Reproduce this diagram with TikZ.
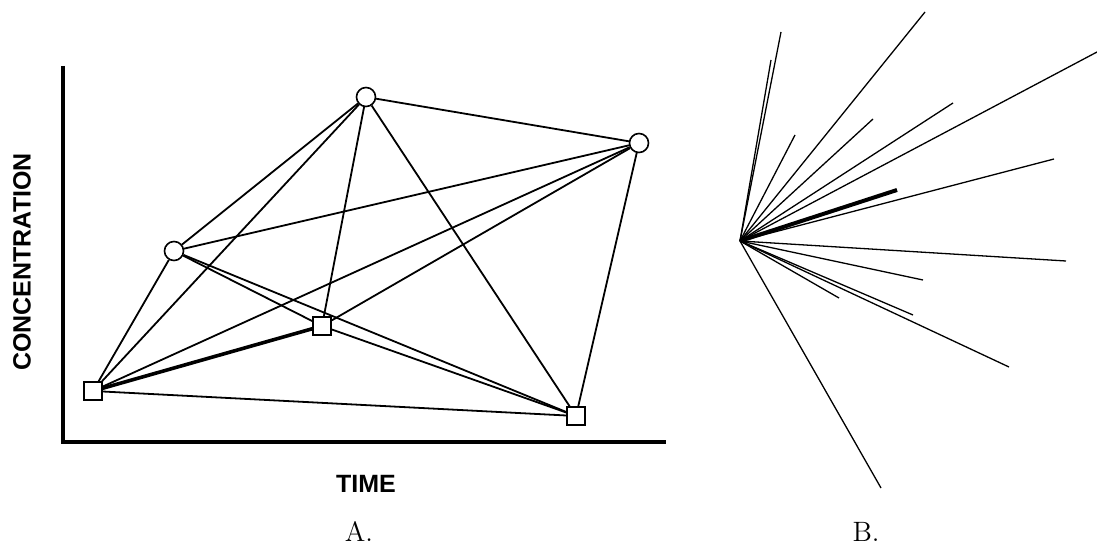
\documentclass[tikz,border=0pt]{standalone}
\usepackage{fontspec}
\setsansfont{Liberation Sans}
\tikzset{
  peak/.style={circle, draw, fill=white, line width=0.8pt, minimum size=9.5pt, inner sep=0pt},
  trough/.style={rectangle, draw, fill=white, line width=0.8pt, minimum size=9pt, inner sep=0pt},
  link/.style={line width=0.9pt},
  heavylink/.style={line width=1.8pt},
  ray/.style={line width=0.65pt},
  heavyray/.style={line width=2pt},
  axislabel/.style={font=\sffamily\bfseries\fontsize{12.5}{14}\selectfont},
  panellabel/.style={font=\fontsize{14}{16}\selectfont, inner sep=1pt}
}

\begin{document}
\begin{tikzpicture}[x=0.5pt, y=-0.5pt]
  \useasboundingbox (0,0) rectangle (1097,549);

  \coordinate (ytop) at (63,66);
  \coordinate (xend) at (666,442);
  \draw[line width=2pt] (ytop) |- (xend);
  \node[axislabel, rotate=90] (conc) at (22,262) {CONCENTRATION};
  \node[axislabel] (time) at (366,484) {TIME};

  \node[peak] (c1) at (174,251) {};
  \node[peak] (c2) at (366,97) {};
  \node[peak] (c3) at (639,143) {};
  \node[trough] (s1) at (93,391) {};
  \node[trough] (s2) at (322,326) {};
  \node[trough] (s3) at (576,416) {};

  \draw[heavylink] (s1) -- (s2);
  \foreach \a/\b in {s1/c1, s1/c2, s1/c3, s1/s3, c1/c2, c1/c3, c1/s2, c1/s3,
                     c2/c3, c2/s2, c2/s3, c3/s2, c3/s3, s2/s3}
    \draw[link] (\a) -- (\b);

  \coordinate (hub) at (740,241);
  \foreach \x/\y [count=\i] in {781/32, 771/60, 795/135, 925/12, 873/119,
                                953/103, 1097/52, 1054/159, 1066/261, 923/280,
                                839/298, 913/315, 1009/367, 881/488}
  {
    \coordinate (tip\i) at (\x,\y);
    \draw[ray] (hub) -- (tip\i);
  }
  \coordinate (tipheavy) at (897,190);
  \draw[heavyray] (hub) -- (tipheavy);

  \node[panellabel] (panela) at (359,532) {A.};
  \node[panellabel] (panelb) at (866,532) {B.};
\end{tikzpicture}
\end{document}
